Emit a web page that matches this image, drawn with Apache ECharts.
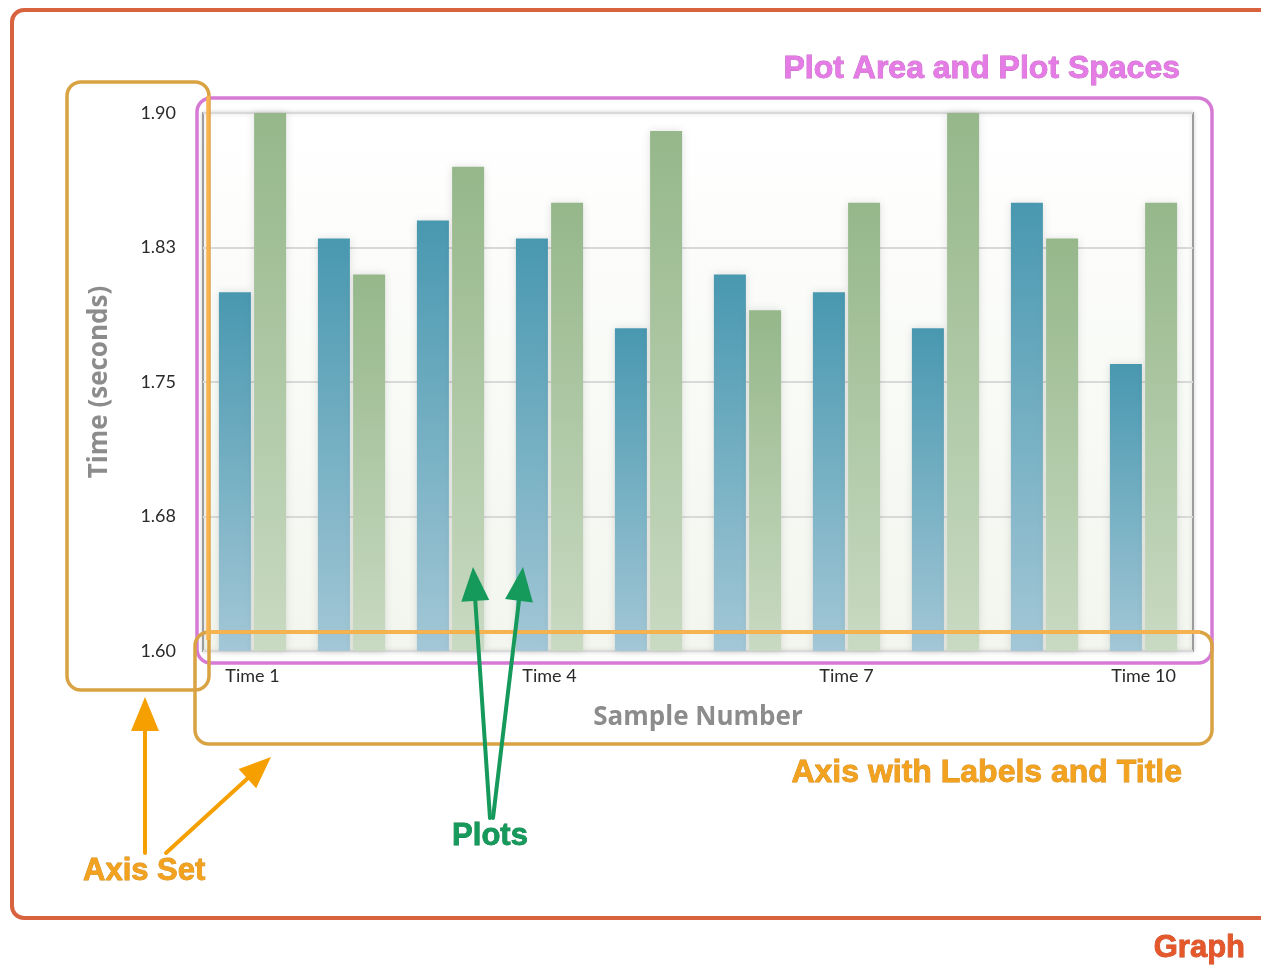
<!DOCTYPE html>
<html>
<head>
<meta charset="utf-8">
<title>Graph anatomy</title>
<script src="https://cdn.jsdelivr.net/npm/echarts@6/dist/echarts.min.js"></script>
<style>
  html, body { margin: 0; padding: 0; background: #ffffff; }
  #chart { width: 1261px; height: 968px; }
</style>
</head>
<body>
<div id="chart"></div>
<script>
// Sample categories and the two measured series (seconds)
const categories = ['Time 1', 'Time 2', 'Time 3', 'Time 4', 'Time 5',
                    'Time 6', 'Time 7', 'Time 8', 'Time 9', 'Time 10'];
const seriesBlue  = [1.80, 1.83, 1.84, 1.83, 1.78, 1.81, 1.80, 1.78, 1.85, 1.76];
const seriesGreen = [1.90, 1.81, 1.87, 1.85, 1.89, 1.79, 1.85, 1.90, 1.83, 1.85];

// Value axis range and its tick labels
const Y_MIN = 1.60;
const Y_MAX = 1.90;
const Y_STEP = 0.075;
const yTickLabels = ['1.60', '1.68', '1.75', '1.83', '1.90'];

const chart = echarts.init(document.getElementById('chart'), null, { renderer: 'canvas' });

function grad(top, bottom) {
  return new echarts.graphic.LinearGradient(0, 0, 0, 1, [
    { offset: 0, color: top },
    { offset: 1, color: bottom }
  ]);
}

// Arrow built from a shaft line and a triangular head
function arrow(x0, y0, x1, y1, color, headLen, headHalf, width) {
  const dx = x1 - x0, dy = y1 - y0;
  const len = Math.sqrt(dx * dx + dy * dy);
  const ux = dx / len, uy = dy / len;
  const bx = x1 - ux * headLen, by = y1 - uy * headLen;
  const px = -uy, py = ux;
  return [
    {
      type: 'line', z: 100,
      shape: { x1: x0, y1: y0, x2: bx + ux * 2, y2: by + uy * 2 },
      style: { stroke: color, lineWidth: width, lineCap: 'round' }
    },
    {
      type: 'polygon', z: 100,
      shape: { points: [[x1, y1], [bx + px * headHalf, by + py * headHalf], [bx - px * headHalf, by - py * headHalf]] },
      style: { fill: color }
    }
  ];
}

function box(x, y, w, h, color, lw) {
  return {
    type: 'rect', z: 90,
    shape: { x: x, y: y, width: w, height: h, r: 14 },
    style: { fill: 'none', stroke: color, lineWidth: lw }
  };
}

function caption(text, x, y, color, align, edge, size) {
  return {
    type: 'text', z: 110, x: x, y: y,
    style: {
      text: text, fill: color,
      font: 'bold ' + size + 'px "Liberation Sans", Arial, sans-serif',
      align: align, verticalAlign: 'middle',
      stroke: edge, lineWidth: 0.8,
      shadowColor: 'rgba(0,0,0,0.25)', shadowBlur: 2, shadowOffsetY: 1
    }
  };
}

const ORANGE_BOX = '#d9a343';
const ORANGE_LIGHT = '#f8b24e';
const ORANGE_ARROW = '#f5a000';
const GREEN = '#159a5c';
const PINK = '#d67ad6';
const RED = '#d9623f';

const graphics = [
  // outer graph frame (runs past the right edge)
  { type: 'rect', z: 90, shape: { x: 12, y: 10, width: 1275, height: 908, r: 12 },
    style: { fill: 'none', stroke: RED, lineWidth: 4 } },
  // plot area frame
  box(197, 98, 1015, 565, PINK, 3.5),
  // axis boxes
  box(67, 82, 142, 608, ORANGE_BOX, 3.5),
  box(195, 632, 1017, 112, ORANGE_BOX, 3.5),
  { type: 'line', z: 95, shape: { x1: 208, y1: 96, x2: 208, y2: 640 },
    style: { stroke: ORANGE_LIGHT, lineWidth: 3.5 } },
  { type: 'line', z: 95, shape: { x1: 206, y1: 632, x2: 1200, y2: 632 },
    style: { stroke: ORANGE_LIGHT, lineWidth: 3.5 } },
  // captions
  caption('Plot Area and Plot Spaces', 1180, 69, '#e57ce6', 'right', '#c263c2', 32),
  caption('Axis with Labels and Title', 1182, 773, '#f2a21e', 'right', '#d08a1a', 32),
  caption('Axis Set', 83, 871, '#f2a21e', 'left', '#d08a1a', 31),
  caption('Plots', 490, 836, GREEN, 'center', '#0f7d49', 31),
  caption('Graph', 1245, 948, '#e5582c', 'right', '#c4461e', 31)
]
  .concat(arrow(145, 853, 145, 697, ORANGE_ARROW, 34, 14, 4))
  .concat(arrow(166, 853, 271, 757, ORANGE_ARROW, 32, 13, 4))
  .concat(arrow(490, 818, 473, 567, GREEN, 34, 14, 4))
  .concat(arrow(493, 818, 523, 567, GREEN, 34, 14, 4));

const titleStyle = { color: '#8c8c8c', fontFamily: '"Open Sans", sans-serif', fontWeight: 'bold', fontSize: 26 };

const option = {
  backgroundColor: '#ffffff',
  animation: false,
  grid: {
    left: 203, top: 113, width: 990, height: 538,
    show: true,
    backgroundColor: grad('#ffffff', '#f2f6ee'),
    borderColor: '#9c9c9c',
    borderWidth: 2,
    shadowColor: 'rgba(0,0,0,0.15)', shadowBlur: 4
  },
  xAxis: {
    type: 'category',
    data: categories,
    name: 'Sample Number',
    nameLocation: 'middle',
    nameGap: 54,
    nameTextStyle: titleStyle,
    axisLine: { show: false },
    axisTick: { show: false },
    axisLabel: {
      interval: 2, margin: 16, color: '#2a2a2a',
      fontFamily: 'Lato, sans-serif', fontSize: 18
    }
  },
  yAxis: {
    type: 'value',
    min: Y_MIN, max: Y_MAX, interval: Y_STEP,
    name: 'Time (seconds)',
    nameLocation: 'middle',
    nameGap: 90,
    nameTextStyle: titleStyle,
    axisLine: { show: false },
    axisTick: { show: false },
    splitLine: { show: true, lineStyle: { color: '#d9d9d9', width: 2 } },
    axisLabel: {
      margin: 27, color: '#2a2a2a', fontFamily: 'Lato, sans-serif', fontSize: 18,
      formatter: function (v) {
        return yTickLabels[Math.round((v - Y_MIN) / Y_STEP)];
      }
    }
  },
  series: [
    {
      name: 'Series A', type: 'bar', data: seriesBlue,
      barWidth: 32, barGap: '10%',
      itemStyle: {
        color: grad('#4898b0', '#a3c7d6'),
        shadowColor: 'rgba(0,0,0,0.12)', shadowBlur: 8
      }
    },
    {
      name: 'Series B', type: 'bar', data: seriesGreen,
      barWidth: 32, barGap: '10%',
      itemStyle: {
        color: grad('#95b78a', '#c9dac2'),
        shadowColor: 'rgba(0,0,0,0.12)', shadowBlur: 8
      }
    }
  ],
  graphic: graphics
};

chart.setOption(option);
</script>
</body>
</html>
